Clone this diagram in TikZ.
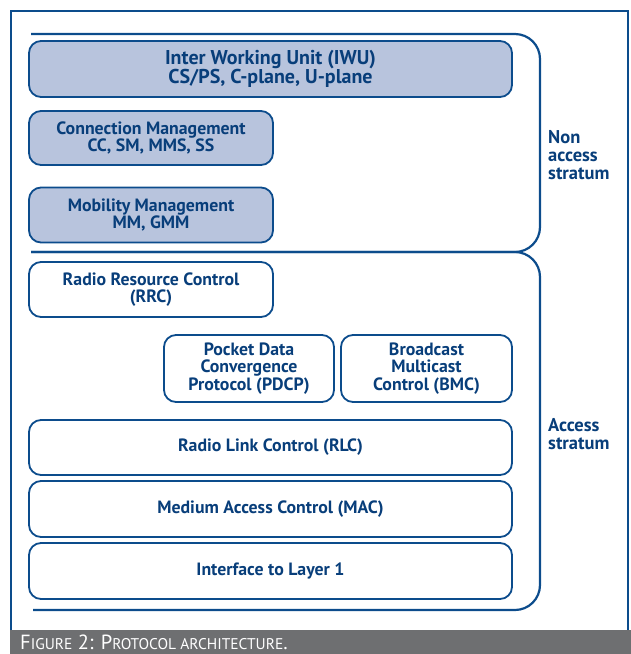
\documentclass[tikz,border=0pt]{standalone}
\usepackage{fontspec}
\setmainfont{PT Sans}
\definecolor{nsline}{RGB}{12,76,140}
\definecolor{nstext}{RGB}{8,62,122}
\definecolor{nsfill}{RGB}{184,196,221}
\definecolor{capgray}{RGB}{110,111,113}
\newcommand\capsm[1]{{\fontsize{15.5}{17}\selectfont #1}}
\begin{document}
\begin{tikzpicture}[x=1pt,y=-1pt,
        layer/.style={draw=nsline,line width=1.8pt,rounded corners=12pt,text=nstext,align=center,
            font=\bfseries\fontsize{17.8}{17.5}\selectfont,inner sep=0pt},
        shaded/.style={layer,fill=nsfill},
        side/.style={text=nstext,align=left,anchor=west,font=\bfseries\fontsize{18.5}{18}\selectfont,inner sep=0pt},
        brace/.style={draw=nsline,line width=2.2pt,rounded corners=25pt}]
                \useasboundingbox (0,0) rectangle (631,654);
                \draw[nsline,line width=1.6pt](11,11) rectangle (628,640);
                \fill[capgray](10,630) rectangle (631,654);
                \node[anchor=base west,text=white,inner sep=0pt,font=\fontsize{20.5}{22}\selectfont] (cap) at (20,649)
                    {F\capsm{IGURE} 2: P\capsm{ROTOCOL ARCHITECTURE}.};
                % brackets
                \draw[brace](31,34)--(540,34)--(540,252)--(31,252);
                \draw[brace](31,252)--(540,252)--(540,610)--(33,610);
                \node[side] (nas) at (548,155) {Non\\access\\stratum};
                \node[side] (as) at (548,434) {Access\\stratum};
                % non access stratum
                \node[shaded,minimum width=483pt,minimum height=56pt,font=\bfseries\fontsize{20}{17.5}\selectfont] (iwu) at (270.5,69)
                    {Inter Working Unit (IWU)\\CS/PS, C-plane, U-plane};
                \node[shaded,minimum width=244pt,minimum height=54pt] (cm) at (151,138)
                    {Connection Management\\CC, SM, MMS, SS};
                \node[shaded,minimum width=244pt,minimum height=55pt] (mm) at (151,215)
                    {Mobility Management\\MM, GMM};
                % access stratum
                \node[layer,minimum width=244pt,minimum height=55pt] (rrc) at (151,289.5)
                    {Radio Resource Control\\(RRC)};
                \node[layer,minimum width=170pt,minimum height=67pt] (pdcp) at (249,368.5)
                    {Pocket Data\\Convergence\\Protocol (PDCP)};
                \node[layer,minimum width=171pt,minimum height=67pt] (bmc) at (426.5,368.5)
                    {Broadcast\\Multicast\\Control (BMC)};
                \node[layer,minimum width=483pt,minimum height=55pt] (rlc) at (270.5,447.5) {Radio Link Control (RLC)};
                \node[layer,minimum width=483pt,minimum height=56pt] (mac) at (270.5,509) {Medium Access Control (MAC)};
                \node[layer,minimum width=483pt,minimum height=56pt] (l1) at (270.5,571) {Interface to Layer 1};
\end{tikzpicture}
\end{document}
